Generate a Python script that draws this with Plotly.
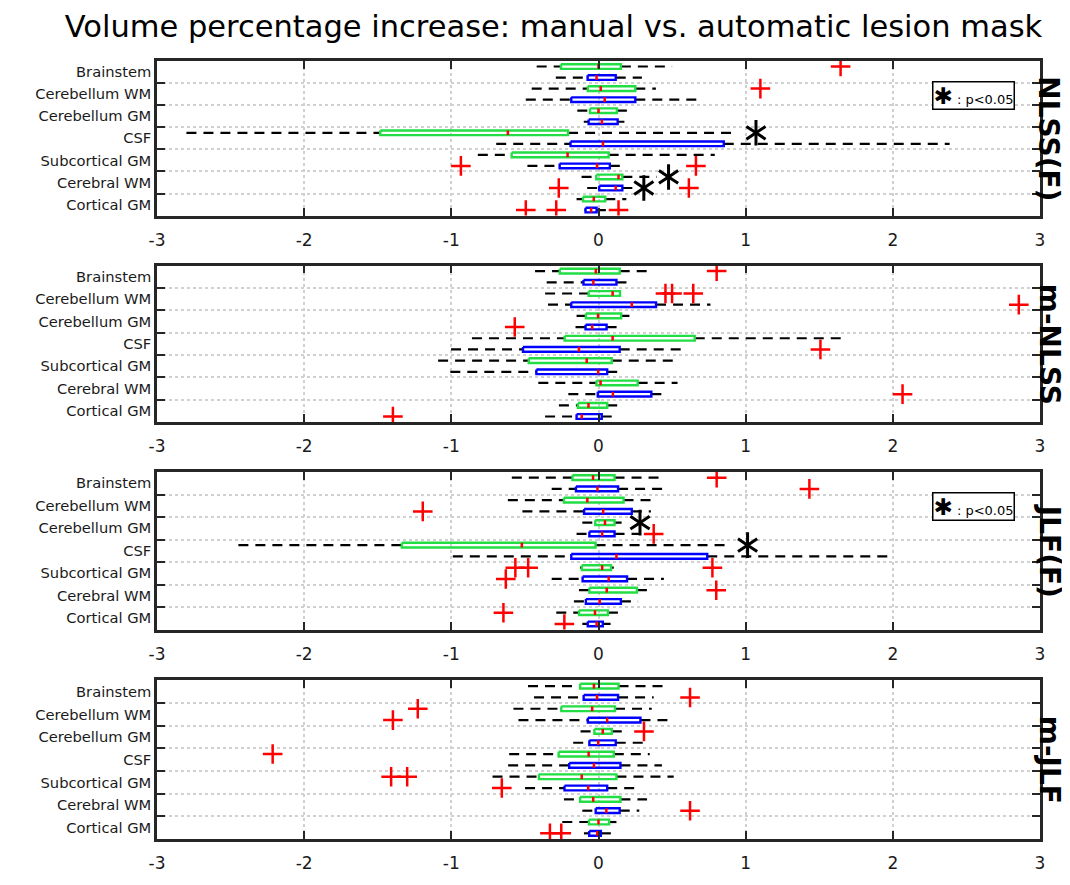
import plotly.graph_objects as go

# ---------------- data ----------------
CATEGORIES = ["Brainstem", "Cerebellum WM", "Cerebellum GM", "CSF",
              "Subcortical GM", "Cerebral WM", "Cortical GM"]
PANEL_NAMES = ["NLSS(F)", "m-NLSS", "JLF(F)", "m-JLF"]
X_TICKS = [-3, -2, -1, 0, 1, 2, 3]
TITLE = "Volume percentage increase: manual vs. automatic lesion mask"
SIG_LABEL = "p&lt;0.05"

# five-number rows per category: [whisker low, q1, median, q3, whisker high]
nlssf_manual = [[-0.42, -0.255, 0.0, 0.152, 0.50],
                [-0.454, -0.073, 0.015, 0.25, 0.39],
                [-0.144, -0.058, 0.0, 0.125, 0.20],
                [-2.80, -1.483, -0.616, -0.207, 0.947],
                [-0.82, -0.59, -0.21, 0.069, 0.79],
                [-0.115, -0.015, 0.136, 0.162, 0.396],
                [-0.149, -0.105, -0.032, 0.046, 0.189]]
nlssf_manual_out = [[1.645], [1.10], [], [], [], [], []]
nlssf_auto = [[-0.29, -0.074, -0.013, 0.117, 0.295],
              [-0.494, -0.185, 0.042, 0.25, 0.697],
              [-0.10, -0.067, 0.023, 0.13, 0.176],
              [-0.695, -0.19, 0.03, 0.851, 2.386],
              [-0.483, -0.264, -0.01, 0.077, 0.18],
              [-0.077, 0.005, 0.117, 0.162, 0.237],
              [-0.095, -0.088, -0.05, -0.013, 0.05]]
nlssf_auto_out = [[], [], [], [], [-0.935, 0.662], [-0.27, 0.614], [-0.494, -0.287, 0.136]]
nlssf_sig_manual = [None, None, None, 1.07, None, 0.476, None]
nlssf_sig_auto = [None, None, None, None, None, 0.308, None]

mnlss_manual = [[-0.431, -0.263, -0.018, 0.144, 0.343],
                [-0.363, -0.067, 0.096, 0.146, 0.15],
                [-0.149, -0.086, -0.003, 0.154, 0.21],
                [-0.86, -0.23, 0.096, 0.654, 1.646],
                [-1.09, -0.474, -0.08, 0.09, 0.537],
                [-0.409, -0.014, 0.014, 0.266, 0.537],
                [-0.269, -0.14, -0.068, 0.059, 0.152]]
mnlss_manual_out = [[0.803], [0.455, 0.50, 0.644], [], [], [], [], []]
mnlss_auto = [[-0.352, -0.102, -0.035, 0.122, 0.205],
              [-0.343, -0.185, 0.226, 0.391, 0.761],
              [-0.156, -0.088, -0.043, 0.055, 0.165],
              [-1.002, -0.513, -0.133, 0.144, 0.577],
              [-1.007, -0.422, -0.002, 0.059, 0.152],
              [-0.205, -0.005, 0.098, 0.359, 0.471],
              [-0.363, -0.149, -0.114, 0.022, 0.112]]
mnlss_auto_out = [[], [2.856], [-0.569], [1.508], [], [2.066], [-1.397]]
mnlss_sig_manual = [None] * 7
mnlss_sig_auto = [None] * 7

jlff_manual = [[-0.589, -0.177, -0.037, 0.109, 0.41],
               [-0.616, -0.235, -0.076, 0.17, 0.364],
               [-0.11, -0.022, 0.044, 0.109, 0.157],
               [-2.447, -1.336, -0.521, -0.02, 0.875],
               [-0.126, -0.113, 0.025, 0.085, 0.104],
               [-0.133, -0.062, 0.056, 0.261, 0.362],
               [-0.287, -0.132, -0.024, 0.064, 0.149]]
jlff_manual_out = [[0.803], [], [], [], [-0.565, -0.478, 0.774], [0.80], [-0.646]]
jlff_auto = [[-0.318, -0.153, -0.007, 0.133, 0.444],
             [-0.517, -0.098, 0.032, 0.226, 0.356],
             [-0.149, -0.062, 0.025, 0.109, 0.277],
             [-0.99, -0.185, 0.122, 0.739, 1.99],
             [-0.318, -0.108, 0.069, 0.194, 0.444],
             [-0.167, -0.086, 0.008, 0.152, 0.269],
             [-0.11, -0.073, -0.013, 0.029, 0.082]]
jlff_auto_out = [[1.433], [-1.194], [0.375], [], [-0.63], [], [-0.232]]
jlff_sig_manual = [None, None, 0.282, 1.013, None, None, None]
jlff_sig_auto = [None] * 7

mjlf_manual = [[-0.479, -0.125, -0.031, 0.136, 0.463],
               [-0.578, -0.253, -0.043, 0.112, 0.362],
               [-0.122, -0.028, 0.029, 0.09, 0.176],
               [-0.607, -0.271, -0.067, 0.104, 0.348],
               [-0.72, -0.405, -0.114, 0.122, 0.511],
               [-0.235, -0.125, -0.036, 0.149, 0.33],
               [-0.246, -0.065, 0.0, 0.072, 0.122]]
mjlf_manual_out = [[], [-1.228], [0.309], [-2.214], [-1.409, -1.30], [], []]
mjlf_auto = [[-0.438, -0.101, -0.01, 0.133, 0.375],
             [-0.544, -0.072, 0.059, 0.285, 0.489],
             [-0.172, -0.062, -0.002, 0.117, 0.311],
             [-0.614, -0.199, -0.031, 0.149, 0.431],
             [-0.499, -0.231, -0.07, 0.059, 0.271],
             [-0.11, -0.019, 0.053, 0.144, 0.277],
             [-0.099, -0.063, -0.008, 0.016, 0.085]]
mjlf_auto_out = [[0.622], [-1.397], [], [], [-0.657], [0.622], [-0.33, -0.253]]
mjlf_sig_manual = [None] * 7
mjlf_sig_auto = [None] * 7

PANELS = [
    (nlssf_manual, nlssf_manual_out, nlssf_auto, nlssf_auto_out, nlssf_sig_manual, nlssf_sig_auto),
    (mnlss_manual, mnlss_manual_out, mnlss_auto, mnlss_auto_out, mnlss_sig_manual, mnlss_sig_auto),
    (jlff_manual, jlff_manual_out, jlff_auto, jlff_auto_out, jlff_sig_manual, jlff_sig_auto),
    (mjlf_manual, mjlf_manual_out, mjlf_auto, mjlf_auto_out, mjlf_sig_manual, mjlf_sig_auto),
]
SIG_LEGEND_PANELS = [0, 2]

# ---------------- style ----------------
OFF = 8                      # page body margin of the html page
W, H = 1070 - OFF, 885 - OFF
PLOT_L, PLOT_R = 157 - OFF, 1040 - OFF
PLOT_T, PLOT_B = 61 - OFF, 856 - OFF
PANEL_PX = [(61 - OFF, 219 - OFF), (270 - OFF, 430 - OFF),
            (481 - OFF, 642 - OFF), (694 - OFF, 856 - OFF)]
GREEN = "#22dd44"
BLUE = "#0000ff"
RED = "#ff0000"
AXC = "#262626"
GRID = "#d0d0d0"
FONT = "DejaVu Sans"
HALF = 0.21  # box half-height in position units


def ydom(top, bot):
    span = PLOT_B - PLOT_T
    return [(PLOT_B - bot) / span, (PLOT_B - top) / span]


fig = go.Figure()

for p, (man, man_out, aut, aut_out, sig_m, sig_a) in enumerate(PANELS):
    xa = "x" if p == 0 else f"x{p+1}"
    ya = "y" if p == 0 else f"y{p+1}"
    wx, wy, mx, my, ox, oy, sx, sy = [], [], [], [], [], [], [], []
    boxes = {GREEN: ([], []), BLUE: ([], [])}
    for c in range(len(CATEGORIES)):
        for stats, outs, sig, pos, col in (
            (man[c], man_out[c], sig_m[c], 2 * c + 1, GREEN),
            (aut[c], aut_out[c], sig_a[c], 2 * c + 2, BLUE),
        ):
            lo, q1, med, q3, hi = stats
            wx += [lo, q1, None, q3, hi, None]
            wy += [pos, pos, None, pos, pos, None]
            bx, by = boxes[col]
            bx += [q1, q3, q3, q1, q1, None]
            by += [pos - HALF, pos - HALF, pos + HALF, pos + HALF, pos - HALF, None]
            mx += [med, med, None]
            my += [pos - HALF, pos + HALF, None]
            for o in outs:
                ox.append(o)
                oy.append(pos)
            if sig is not None:
                sx.append(sig)
                sy.append(pos)
    fig.add_trace(go.Scatter(x=wx, y=wy, mode="lines", xaxis=xa, yaxis=ya,
                             line=dict(color="black", width=2.2, dash="10px,7px"),
                             showlegend=False, hoverinfo="skip"))
    for col, (bx, by) in boxes.items():
        fig.add_trace(go.Scatter(x=bx, y=by, mode="lines", xaxis=xa, yaxis=ya,
                                 line=dict(color=col, width=2.4),
                                 showlegend=False, hoverinfo="skip"))
    fig.add_trace(go.Scatter(x=mx, y=my, mode="lines", xaxis=xa, yaxis=ya,
                             line=dict(color=RED, width=2.5),
                             showlegend=False, hoverinfo="skip"))
    fig.add_trace(go.Scatter(x=ox, y=oy, mode="markers", xaxis=xa, yaxis=ya,
                             marker=dict(symbol="cross-thin", size=14,
                                         line=dict(color=RED, width=2.5)),
                             showlegend=False, hoverinfo="skip"))
    for sym in ("y-up", "y-down"):
        fig.add_trace(go.Scatter(x=sx, y=sy, mode="markers", xaxis=xa, yaxis=ya,
                                 marker=dict(symbol=sym, size=16,
                                             line=dict(color="black", width=3)),
                                 showlegend=False, hoverinfo="skip"))

    top, bot = PANEL_PX[p]
    xkey = "xaxis" if p == 0 else f"xaxis{p+1}"
    ykey = "yaxis" if p == 0 else f"yaxis{p+1}"
    fig.update_layout(**{
        xkey: dict(domain=[0, 1], anchor=ya, range=[-3, 3],
                   tickmode="array", tickvals=X_TICKS,
                   ticktext=[str(v) for v in X_TICKS],
                   ticks="inside", ticklen=8, tickwidth=2, tickcolor=AXC,
                   showline=True, linecolor=AXC, linewidth=2.5, mirror="ticks",
                   showgrid=True, gridcolor=GRID, griddash="dot", gridwidth=1.5,
                   zeroline=False, ticklabelstandoff=7,
                   tickfont=dict(family=FONT, size=17, color="#1a1a1a")),
        ykey: dict(domain=ydom(top, bot), anchor=xa, range=[14.5, 0.5],
                   tickmode="array",
                   tickvals=[2 * c + 1.5 for c in range(len(CATEGORIES))],
                   ticktext=CATEGORIES, ticks="",
                   showline=True, linecolor=AXC, linewidth=2.5, mirror="ticks",
                   showgrid=False, zeroline=False, ticklabelstandoff=0,
                   minor=dict(tickmode="array",
                              tickvals=[2 * c + 2.5 for c in range(len(CATEGORIES) - 1)],
                              ticks="inside", ticklen=8, tickwidth=2, tickcolor=AXC,
                              showgrid=True, gridcolor=GRID, griddash="dot", gridwidth=1.5),
                   tickfont=dict(family=FONT, size=14.7, color="#1a1a1a")),
    })
    fig.add_annotation(text=f"<b>{PANEL_NAMES[p]}</b>", xref="paper", yref=f"{ya} domain",
                       x=(1049 - OFF - PLOT_L) / (PLOT_R - PLOT_L), y=0.5,
                       xanchor="center", yanchor="middle",
                       textangle=90, showarrow=False,
                       font=dict(family=FONT, size=28, color="black"))
    if p in SIG_LEGEND_PANELS:
        fig.add_annotation(
            text=f'<span style="font-size:23px"><b>✱</b></span> : {SIG_LABEL}',
            xref=f"{xa} domain", yref=f"{ya} domain", x=0.925, y=0.78,
            xanchor="center", yanchor="middle", showarrow=False,
            bordercolor="black", borderwidth=1.5, borderpad=0, bgcolor="white",
            font=dict(family=FONT, size=13, color="black"))

fig.update_layout(
    width=W, height=H,
    margin=dict(l=PLOT_L, r=W - PLOT_R, t=PLOT_T, b=H - PLOT_B, pad=0),
    paper_bgcolor="white", plot_bgcolor="white",
    title=dict(text=TITLE, x=(553.5 - OFF) / W, xanchor="center",
               y=1.0, yanchor="top", pad=dict(t=8),
               font=dict(family=FONT, size=30.5, color="black")),
    font=dict(family=FONT),
)

fig.write_html("out.html")
